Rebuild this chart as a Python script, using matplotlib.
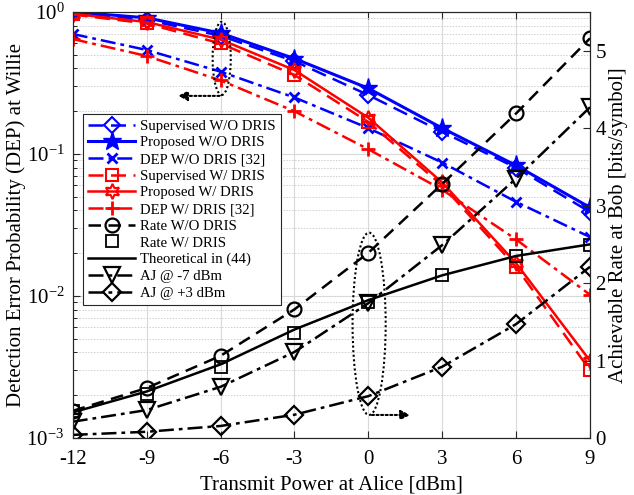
import matplotlib
matplotlib.use("Agg")
import matplotlib.pyplot as plt
from matplotlib.patches import Ellipse
import numpy as np

plt.rcParams['font.family'] = ['Liberation Serif', 'DejaVu Serif']
plt.rcParams['mathtext.fontset'] = 'custom'
plt.rcParams['mathtext.rm'] = 'Liberation Serif'
plt.rcParams['mathtext.it'] = 'Liberation Serif:italic'

power = [-12, -9, -6, -3, 0, 3, 6, 9]

# DEP at Willie (left axis)
sup_wo = [0.98, 0.88, 0.68, 0.45, 0.26, 0.143, 0.080, 0.039]
prop_wo = [1.0, 0.91, 0.71, 0.47, 0.29, 0.152, 0.083, 0.042]
dep_wo = [0.70, 0.54, 0.38, 0.25, 0.152, 0.087, 0.046, 0.026]
sup_w = [0.96, 0.83, 0.60, 0.36, 0.168, 0.060, 0.016, 0.0030]
prop_w = [0.97, 0.85, 0.64, 0.39, 0.180, 0.063, 0.017, 0.0035]
dep_w = [0.645, 0.49, 0.33, 0.20, 0.108, 0.056, 0.025, 0.0102]

# Achievable rate at Bob (right axis)
rate_wo = [0.35, 0.645, 1.06, 1.66, 2.39, 3.28, 4.19, 5.16]
rate_w = [0.35, 0.57, 0.92, 1.35, 1.76, 2.10, 2.35, 2.49]
theo = [0.33, 0.60, 0.95, 1.40, 1.78, 2.10, 2.35, 2.50]
aj_m7 = [0.21, 0.36, 0.66, 1.11, 1.74, 2.49, 3.35, 4.27]
aj_p3 = [0.04, 0.08, 0.155, 0.30, 0.54, 0.92, 1.47, 2.21]

labels = ["Supervised W/O DRIS", "Proposed W/O DRIS", "DEP W/O DRIS [32]",
          "Supervised W/ DRIS", "Proposed W/ DRIS", "DEP W/ DRIS [32]",
          "Rate W/O DRIS", "Rate W/ DRIS", "Theoretical in (44)",
          "AJ @ -7 dBm", "AJ @ +3 dBm"]

fig = plt.figure(figsize=(6.34, 4.95), dpi=100)
ax = fig.add_axes([0.1147, 0.1152, 0.8159, 0.8606])
ax2 = ax.twinx()

blue = '#0000ff'
red = '#ff0000'
lw = 1.8
hexagram = (6, 1, 0)
dashdot = (0, (6, 2, 1.5, 2))

handles = []
h, = ax.plot(power, sup_wo, color=blue, ls=(0, (6, 3)), lw=lw, marker='D', ms=8,
             mfc='none', mew=1.5, label=labels[0])
handles.append(h)
h, = ax.plot(power, prop_wo, color=blue, ls='-', lw=lw + 0.4, marker='*', ms=14,
             mfc=blue, mew=1.0, label=labels[1])
handles.append(h)
h, = ax.plot(power, dep_wo, color=blue, ls=dashdot, lw=lw, marker='x', ms=7,
             mew=2, label=labels[2])
handles.append(h)
h, = ax.plot(power, sup_w, color=red, ls=(0, (6, 3)), lw=lw, marker='s', ms=8,
             mfc='none', mew=1.5, label=labels[3])
handles.append(h)
h, = ax.plot(power, prop_w, color=red, ls='-', lw=lw, marker=hexagram, ms=11,
             mfc='none', mew=1.5, label=labels[4])
handles.append(h)
h, = ax.plot(power, dep_w, color=red, ls=dashdot, lw=lw, marker='+', ms=10,
             mew=2, label=labels[5])
handles.append(h)

h, = ax2.plot(power, rate_wo, color='k', ls=(0, (5, 3)), lw=lw, marker='o', ms=10,
              mfc='none', mew=1.6, label=labels[6])
handles.append(h)
h, = ax2.plot(power, rate_w, color='k', ls='none', marker='s', ms=8,
              mfc='none', mew=1.3, label=labels[7])
handles.append(h)
h, = ax2.plot(power, theo, color='k', ls='-', lw=lw, label=labels[8])
handles.append(h)
h, = ax2.plot(power, aj_m7, color='k', ls=dashdot, lw=lw, marker='v', ms=11,
              mfc='none', mew=1.6, label=labels[9])
handles.append(h)
h, = ax2.plot(power, aj_p3, color='k', ls=dashdot, lw=lw, marker='D', ms=9,
              mfc='none', mew=1.6, label=labels[10])
handles.append(h)

ax.set_yscale('log')
ax.set_ylim(1e-3, 1)
ax.set_xlim(-12, 9)
ax.set_xticks(power)
ax.set_xticklabels([str(p) for p in power])
ax2.set_ylim(0, 5.5)
ax2.set_yticks([0, 1, 2, 3, 4, 5])

ax.grid(True, which='major', color='#d9d9d9', ls='-', lw=0.8)
ax.grid(True, which='minor', axis='y', color='#d0d0d0', ls=(0, (1.5, 1.5)), lw=0.7)
ax.set_axisbelow(True)

for a in (ax, ax2):
    a.tick_params(direction='in', labelsize=15, length=5, width=0.8, colors='#262626')
    a.tick_params(labelcolor='black')
    for s in a.spines.values():
        s.set_color('#262626')
        s.set_linewidth(0.8)
ax.tick_params(which='minor', direction='in', length=3, right=False)
ax.tick_params(top=True)
ax.tick_params(axis='x', pad=9)
ax.tick_params(axis='y', pad=6)
ax2.tick_params(pad=4)

ax.set_xlabel("Transmit Power at Alice [dBm]", fontsize=15, labelpad=4)
ax.set_ylabel("Detection Error Probability (DEP) at Willie", fontsize=15, labelpad=0)
ax2.set_ylabel("Achievable Rate at Bob [bits/symbol]", fontsize=15, labelpad=2)

leg = ax2.legend(handles=handles, loc='upper left', bbox_to_anchor=(0.02, 0.76),
                 fontsize=10.6, frameon=True, fancybox=False, edgecolor='#262626',
                 framealpha=1.0, handlelength=3.2, labelspacing=0.23,
                 borderpad=0.35, handletextpad=0.3, borderaxespad=0)
leg.get_frame().set_linewidth(0.8)

# annotations: dotted ellipses and arrows
e1 = Ellipse((0.288, 0.891), 0.035, 0.172, transform=ax2.transAxes, fill=False,
             ls=(0, (1, 1.2)), lw=1.5, color='k', zorder=10)
ax2.add_patch(e1)
ax2.annotate('', xy=(0.198, 0.803), xytext=(0.289, 0.803), xycoords='axes fraction',
             arrowprops=dict(arrowstyle='-|>', ls=(0, (1, 1.2)), lw=1.5, color='k',
                             mutation_scale=14))
e2 = Ellipse((0.573, 0.268), 0.064, 0.428, transform=ax2.transAxes, fill=False,
             ls=(0, (1, 1.2)), lw=1.5, color='k', zorder=10)
ax2.add_patch(e2)
ax2.annotate('', xy=(0.658, 0.054), xytext=(0.573, 0.054), xycoords='axes fraction',
             arrowprops=dict(arrowstyle='-|>', ls=(0, (1, 1.2)), lw=1.5, color='k',
                             mutation_scale=14))

fig.savefig("out.png", dpi=100)
